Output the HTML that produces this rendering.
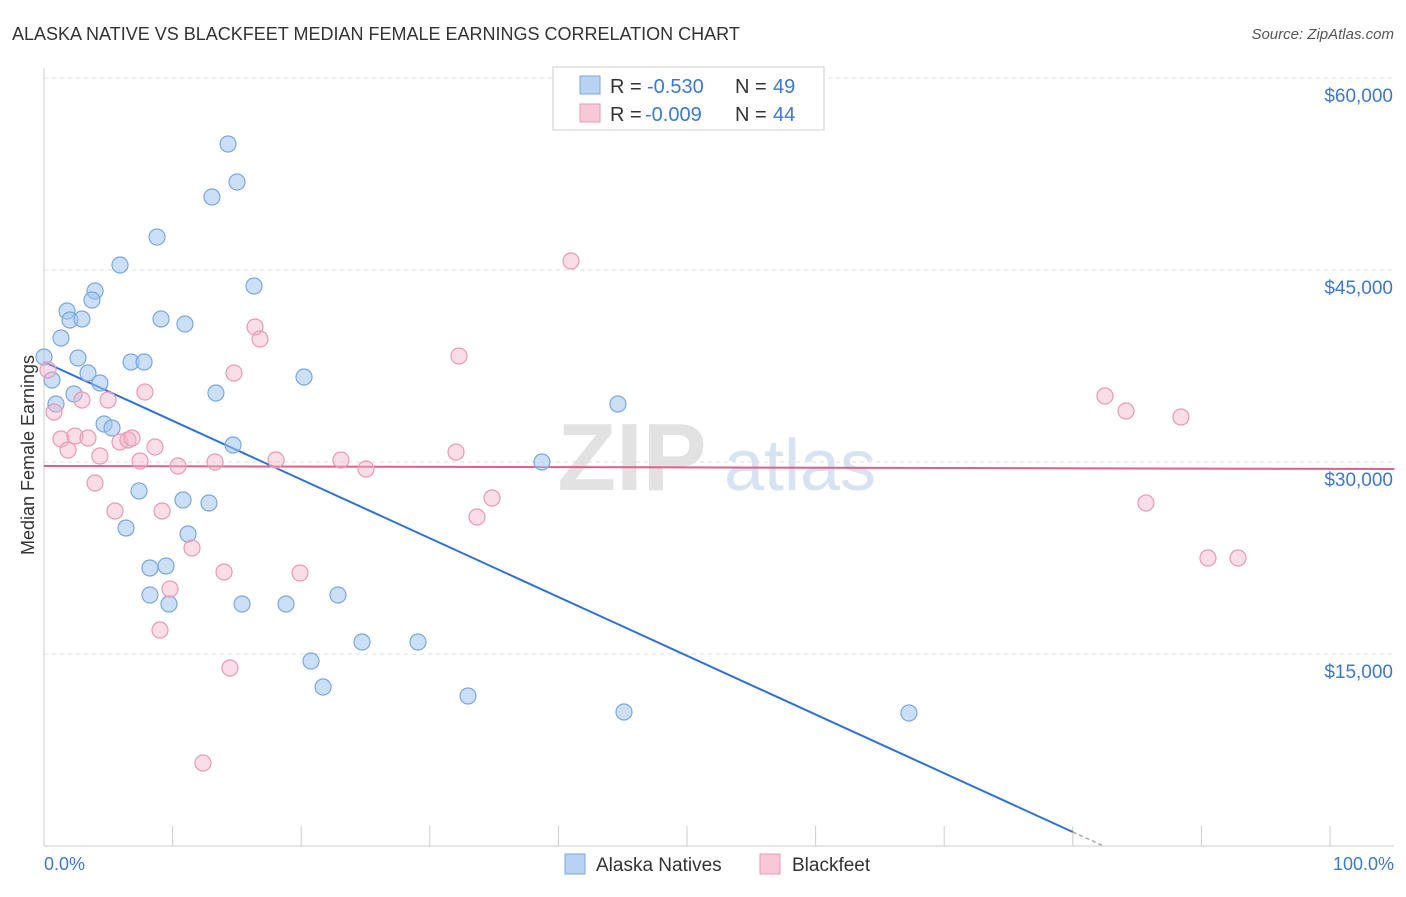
<!DOCTYPE html>
<html><head><meta charset="utf-8"><style>
body{margin:0;background:#fff;font-family:"Liberation Sans",sans-serif}
svg text{font-family:"Liberation Sans",sans-serif}
</style></head><body>
<svg id="chart" width="1406" height="892" xmlns="http://www.w3.org/2000/svg">
<text x="12" y="40" font-size="18" fill="#333">ALASKA NATIVE VS BLACKFEET MEDIAN FEMALE EARNINGS CORRELATION CHART</text>
<text x="1394" y="39" font-size="15" fill="#555" text-anchor="end" font-style="italic">Source: ZipAtlas.com</text>
<g>
<text x="632" y="490" font-size="96" font-family="Liberation Serif" fill="#e2e2e2" text-anchor="middle" font-weight="bold">ZIP</text>
<text x="800" y="490" font-size="72" fill="#d5e3f3" text-anchor="middle">atlas</text>
</g>
<g id="grid"></g><g id="axes"></g><g id="trend"></g><g id="pts"></g>
<text x="34" y="455" font-size="18" fill="#333" text-anchor="middle" transform="rotate(-90 34 455)">Median Female Earnings</text>
<text x="44" y="870" font-size="18" fill="#3b78d4">0.0%</text>
<text x="1394" y="870" font-size="18" fill="#3b78d4" text-anchor="end">100.0%</text>
<g>
<rect x="553" y="67" width="271" height="63" fill="#fff" stroke="#ccc"/>
<rect x="580" y="76" width="20" height="18" fill="#b8d2f3" stroke="#7ba7e0"/>
<rect x="580" y="104" width="20" height="18" fill="#f8c8d7" stroke="#e79ab3"/>
<text x="610" y="93" font-size="20" fill="#333">R =</text>
<text x="647" y="93" font-size="20" fill="#3b78d4">-0.530</text>
<text x="735" y="93" font-size="20" fill="#333">N =</text>
<text x="773" y="93" font-size="20" fill="#3b78d4">49</text>
<text x="610" y="121" font-size="20" fill="#333">R =</text>
<text x="645" y="121" font-size="20" fill="#3b78d4">-0.009</text>
<text x="735" y="121" font-size="20" fill="#333">N =</text>
<text x="773" y="121" font-size="20" fill="#3b78d4">44</text>
</g>
<g>
<rect x="565" y="854" width="20" height="20" fill="#b8d2f3" stroke="#7ba7e0"/>
<text x="596" y="871" font-size="19" fill="#333">Alaska Natives</text>
<rect x="760" y="854" width="20" height="20" fill="#f8c8d7" stroke="#e79ab3"/>
<text x="792" y="871" font-size="19" fill="#333">Blackfeet</text>
</g>
</svg>
<script>
const yTicks=[15000,30000,45000,60000];
const yTickLabels=["$15,000","$30,000","$45,000","$60,000"];
const xTicks=[0,10,20,30,40,50,60,70,80,90,100];
const blueX=[0,0.62,0.93,1.32,1.79,2.02,2.95,2.64,3.42,3.97,3.73,4.35,2.33,4.67,5.29,5.91,6.38,6.77,7.39,7.78,8.24,8.24,8.79,9.10,9.49,9.72,10.81,10.96,11.20,12.83,13.06,13.37,14.31,14.70,15.01,15.40,16.33,18.82,20.22,20.76,21.70,22.86,24.73,29.08,32.97,38.72,44.63,45.10,67.26];
const blueY=[38203,36406,34531,39688,41797,41094,41172,38125,36953,43359,42656,36172,35313,32969,32656,45391,24844,37813,27734,37813,21719,19609,47578,41172,21875,18906,27031,40781,24375,26797,50703,35391,54844,31328,51875,18906,43750,18906,36641,14453,12422,19609,15938,15938,11719,30000,34531,10469,10391];
const pinkX=[0.31,0.78,1.32,1.87,2.41,2.95,3.42,3.97,4.35,4.98,5.52,5.91,6.53,6.84,7.47,7.85,8.63,9.18,9.02,9.80,10.42,11.51,12.36,13.30,14.00,14.46,14.77,16.41,16.80,18.04,19.91,23.09,25.04,32.04,32.27,33.67,34.84,40.98,82.50,84.14,85.69,88.41,90.51,92.85];
const pinkY=[37188,33906,31797,30938,32031,34844,31875,28359,30469,34844,26172,31563,31719,31875,30078,35469,31172,26172,16875,20078,29688,23281,6484,30000,21406,13906,36953,40547,39609,30156,21328,30156,29453,30781,38281,25703,27188,45703,35156,33984,26797,33516,22500,22500];
const blueTrend=[[0,37813],[80,1094],[82.4,0]];
const pinkTrend=[[0,29688],[105,29453]];
const X=v=>44+v*12.86, Y=v=>846-v/78.125;
const NS="http://www.w3.org/2000/svg";
function mk(p,t,a){const e=document.createElementNS(NS,t);for(const k in a)e.setAttribute(k,a[k]);document.getElementById(p).appendChild(e);return e;}
yTicks.forEach((v,i)=>{
 const l=mk('grid','line',{x1:44,x2:1394,y1:Y(v),y2:Y(v),stroke:'#ddd','stroke-dasharray':'4 4'});
 
 
 const t=mk('grid','text',{x:1393,y:Y(v)+24,'font-size':19,fill:'#3b78d4','text-anchor':'end'});
 t.textContent=yTickLabels[i];
 
 
});
const ax=mk('axes','line',{x1:44,x2:44,y1:68,y2:846,stroke:'#ccc'});


const bx=mk('axes','line',{x1:44,x2:1394,y1:846,y2:846,stroke:'#ccc'});


xTicks.forEach(v=>{const t=mk('axes','line',{x1:X(v),x2:X(v),y1:826,y2:846,stroke:'#ccc'});
 
 });
function pts(xs,ys,fill,stroke,name){xs.forEach((x,i)=>{const c=mk('pts','circle',{cx:X(x),cy:Y(ys[i]),r:8,fill:fill,stroke:stroke,'stroke-width':1.2});
 
 });}
pts(blueX,blueY,'rgba(160,196,240,0.55)','#7ba7e0','alaska-native-point');
pts(pinkX,pinkY,'rgba(245,180,200,0.45)','#e79ab3','blackfeet-point');
const b1=mk('trend','line',{x1:X(blueTrend[0][0]),y1:Y(blueTrend[0][1]),x2:X(blueTrend[1][0]),y2:Y(blueTrend[1][1]),stroke:'#3070d8','stroke-width':2});


const b2=mk('trend','line',{x1:X(blueTrend[1][0]),y1:Y(blueTrend[1][1]),x2:X(blueTrend[2][0]),y2:Y(blueTrend[2][1]),stroke:'#aaa','stroke-width':1.5,'stroke-dasharray':'4 3'});


const p1=mk('trend','line',{x1:X(pinkTrend[0][0]),y1:Y(pinkTrend[0][1]),x2:X(pinkTrend[1][0]),y2:Y(pinkTrend[1][1]),stroke:'#e0608a','stroke-width':2});


</script>
</body></html>
